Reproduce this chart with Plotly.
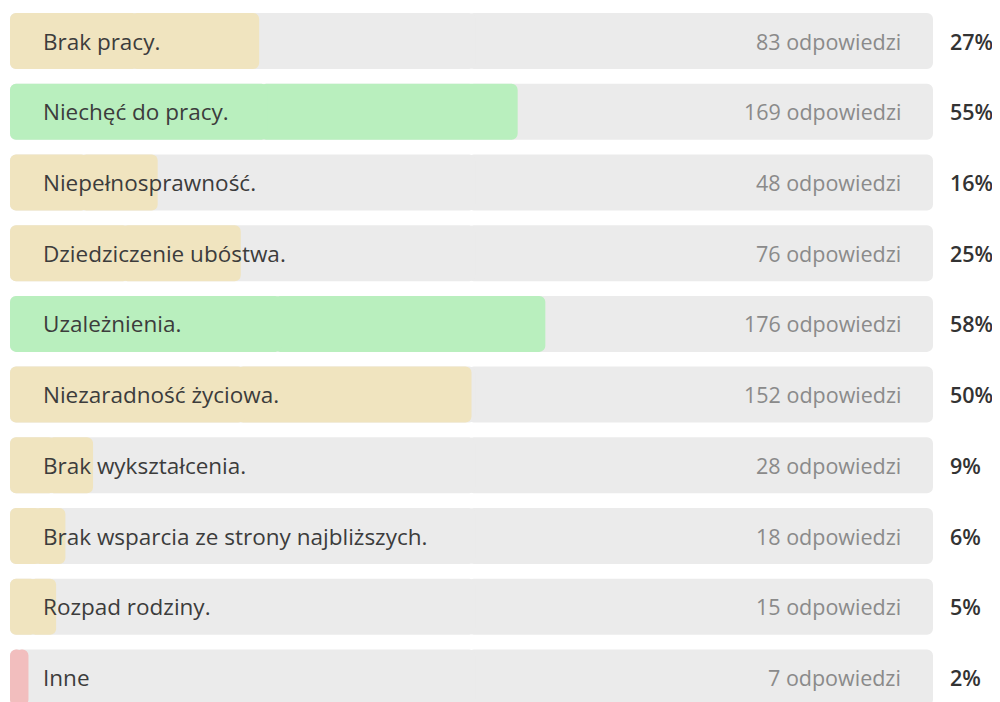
import plotly.graph_objects as go

categories = [
    "Brak pracy.",
    "Niechęć do pracy.",
    "Niepełnosprawność.",
    "Dziedziczenie ubóstwa.",
    "Uzależnienia.",
    "Niezaradność życiowa.",
    "Brak wykształcenia.",
    "Brak wsparcia ze strony najbliższych.",
    "Rozpad rodziny.",
    "Inne",
]
counts = [83, 169, 48, 76, 176, 152, 28, 18, 15, 7]
percents = [27, 55, 16, 25, 58, 50, 9, 6, 5, 2]
bar_colors = ["#F0E4BF", "#B9EFBE", "#F0E4BF", "#F0E4BF", "#B9EFBE",
              "#F0E4BF", "#F0E4BF", "#F0E4BF", "#F0E4BF", "#F2BEBE"]

# page body has an 8px default margin
OFF = 8
W, H = 992, 694
left_px, right_px = 10 - OFF, 933 - OFF
row0, step = 41 - OFF, 70.72
bar_h = 56 / step
radius = 6


def add_rounded(fig, values, color):
    # two slightly overlapping halves growing outward from the middle,
    # so that both ends of the bar get rounded corners
    for sign in (1, -1):
        mid = [v / 2 - sign * min(0.4, v / 4) for v in values]
        length = [sign * (v - m) if sign > 0 else -m for v, m in zip(values, mid)]
        fig.add_trace(go.Bar(
            y=categories, x=length, base=mid,
            orientation="h",
            marker=dict(color=color, cornerradius=radius, line=dict(width=0)),
            width=bar_h, hoverinfo="skip", showlegend=False,
        ))


fig = go.Figure()
add_rounded(fig, [100] * len(categories), "#EBEBEB")
add_rounded(fig, percents, bar_colors)

font_family = "Open Sans, Lato, sans-serif"
for cat, c, p in zip(categories, counts, percents):
    fig.add_annotation(x=0, y=cat, xref="x", yref="y", text=cat,
                       showarrow=False, xanchor="left", xshift=31,
                       font=dict(family=font_family, size=22.5, color="#3C3C3C"))
    fig.add_annotation(x=100, y=cat, xref="x", yref="y", text=f"{c} odpowiedzi",
                       showarrow=False, xanchor="right", xshift=-30,
                       font=dict(family=font_family, size=21.5, color="#8A8A8A"))
    fig.add_annotation(x=100, y=cat, xref="x", yref="y", text=f"{p}%",
                       showarrow=False, xanchor="left", xshift=15,
                       font=dict(family=font_family, size=21.5, weight=600,
                                 color="#333333"))

y_top = (0 - row0) / step
y_bot = (H - row0) / step
fig.update_layout(
    width=W, height=H,
    margin=dict(l=left_px, r=W - right_px, t=0, b=0, pad=0),
    paper_bgcolor="white", plot_bgcolor="white",
    barmode="overlay",
    xaxis=dict(range=[0, 100], visible=False, fixedrange=True),
    yaxis=dict(range=[y_bot, y_top], visible=False, fixedrange=True,
               categoryorder="array", categoryarray=categories),
)
fig.write_html("out.html", config={"displayModeBar": False})
